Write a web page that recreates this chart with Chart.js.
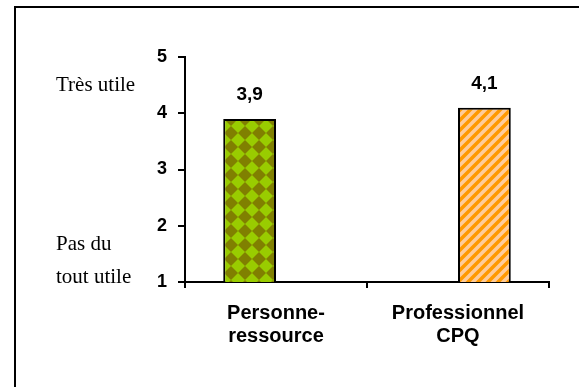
<!DOCTYPE html>
<html>
<head>
<meta charset="utf-8">
<script src="https://cdn.jsdelivr.net/npm/chart.js@4/dist/chart.umd.min.js"></script>
<style>
  html, body { margin: 0; padding: 0; background: #fff; }
  #wrap { width: 579px; height: 387px; }
</style>
</head>
<body>
<div id="wrap"><canvas id="c" width="579" height="387"></canvas></div>
<script>
// Categories, scores and axis text
const categories = [['Personne-', 'ressource'], ['Professionnel', 'CPQ']];
const personneValues = [3.9, null];
const professionnelValues = [null, 4.1];
const valueLabels = ['3,9', '4,1'];
const yTicks = [1, 2, 3, 4, 5];
const topScaleText = ['Très utile'];
const bottomScaleText = ['Pas du', 'tout utile'];

// Fill patterns
function checkerPattern(ctx) {
  const s = 14, h = s / 2;
  const t = document.createElement('canvas');
  t.width = s; t.height = s;
  const g = t.getContext('2d');
  g.fillStyle = '#99CC00';
  g.fillRect(0, 0, s, s);
  g.fillStyle = '#808000';
  g.beginPath();
  g.moveTo(h, 0); g.lineTo(s, h); g.lineTo(h, s); g.lineTo(0, h);
  g.closePath();
  g.fill();
  return ctx.createPattern(t, 'repeat');
}
function stripePattern(ctx) {
  const s = 10;
  const t = document.createElement('canvas');
  t.width = s; t.height = s;
  const g = t.getContext('2d');
  g.fillStyle = '#FFCC99';
  g.fillRect(0, 0, s, s);
  g.strokeStyle = '#FF9900';
  g.lineWidth = 3.5;
  g.beginPath();
  g.moveTo(-2, s + 2); g.lineTo(s + 2, -2);
  g.moveTo(-2, 2); g.lineTo(2, -2);
  g.moveTo(s - 2, s + 2); g.lineTo(s + 2, s - 2);
  g.stroke();
  return ctx.createPattern(t, 'repeat');
}

const canvas = document.getElementById('c');
const ctx = canvas.getContext('2d');

const framePlugin = {
  id: 'frame',
  beforeDraw(chart) {
    const c = chart.ctx;
    c.save();
    c.fillStyle = '#fff';
    c.fillRect(0, 0, chart.width, chart.height);
    c.strokeStyle = '#000';
    c.lineWidth = 2;
    c.strokeRect(15, 7, 620, 420);
    c.restore();
  }
};

const textPlugin = {
  id: 'texts',
  afterDraw(chart) {
    const c = chart.ctx;
    const y = chart.scales.y;
    c.save();
    c.fillStyle = '#000';
    c.font = '21px "Liberation Serif", "Times New Roman", serif';
    c.textAlign = 'left';
    c.textBaseline = 'alphabetic';
    topScaleText.forEach((t, i) => c.fillText(t, 56, 91 + i * 33));
    bottomScaleText.forEach((t, i) => c.fillText(t, 56, y.getPixelForValue(1) - 32 + (i * 33)));
    // value labels above each bar
    c.font = 'bold 19px "Liberation Sans", Arial, sans-serif';
    c.textAlign = 'center';
    c.textBaseline = 'alphabetic';
    chart.data.datasets.forEach((ds, di) => {
      const meta = chart.getDatasetMeta(di);
      meta.data.forEach((bar, i) => {
        if (ds.data[i] == null) return;
        c.fillText(valueLabels[i], bar.x, bar.y - 19);
      });
    });
    c.restore();
  }
};

new Chart(ctx, {
  type: 'bar',
  data: {
    labels: categories,
    datasets: [
      {
        data: personneValues,
        backgroundColor: checkerPattern(ctx),
        borderColor: '#000',
        borderWidth: 2,
        borderSkipped: false
      },
      {
        data: professionnelValues,
        backgroundColor: stripePattern(ctx),
        borderColor: '#000',
        borderWidth: 2,
        borderSkipped: false
      }
    ]
  },
  options: {
    responsive: false,
    animation: false,
    events: [],
    categoryPercentage: 0.58,
    barPercentage: 1.0,
    layout: { padding: { top: 57, right: 30, bottom: 0, left: 0 } },
    plugins: { legend: { display: false }, tooltip: { enabled: false } },
    scales: {
      x: {
        offset: true,
        grid: { offset: true, drawOnChartArea: false, tickLength: 6, color: '#000', lineWidth: 2 },
        border: { color: '#000', width: 2 },
        ticks: {
          color: '#000',
          padding: 14,
          font: { family: '"Liberation Sans", Arial, sans-serif', size: 20, weight: 'bold', lineHeight: 1.15 }
        },
        afterFit(s) { s.height = 105; }
      },
      y: {
        min: 1,
        max: 5,
        afterBuildTicks(s) { s.ticks = yTicks.map(v => ({ value: v })); },
        grid: { drawOnChartArea: false, tickLength: 7, color: '#000', lineWidth: 2 },
        border: { color: '#000', width: 2 },
        ticks: {
          color: '#000',
          padding: 11,
          font: { family: '"Liberation Sans", Arial, sans-serif', size: 18, weight: 'bold' }
        },
        afterFit(s) { s.width = 185; }
      }
    }
  },
  plugins: [framePlugin, textPlugin]
});
</script>
</body>
</html>
